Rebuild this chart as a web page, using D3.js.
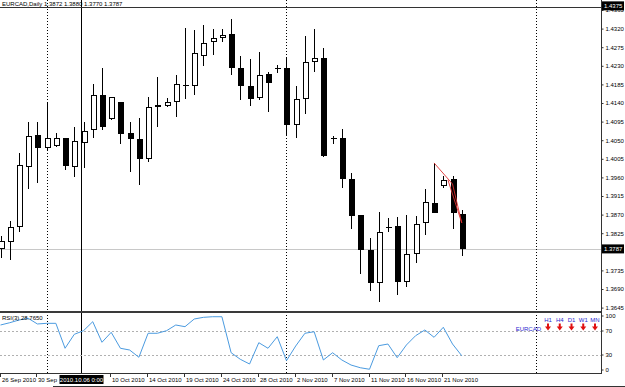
<!DOCTYPE html>
<html><head><meta charset="utf-8">
<script src="https://cdn.jsdelivr.net/npm/d3@7"></script>
<style>html,body{margin:0;padding:0;background:#fff;overflow:hidden}svg{display:block}text{font-family:"Liberation Sans",Arial,sans-serif;}</style>
</head><body><svg id="c" width="625" height="387"></svg>
<script>
const titleText = "EURCAD,Daily  1.3872 1.3880 1.3770 1.3787";
const opens  = [1.3787,1.3804,1.3840,1.3985,1.4063,1.4031,1.4036,1.4055,1.3985,1.4043,1.4075,1.4159,1.4101,1.4142,1.4067,1.4053,1.4005,1.4130,1.4133,1.4142,1.4181,1.4181,1.4254,1.4288,1.4297,1.4307,1.4225,1.4181,1.4152,1.4210,1.4225,1.4225,1.4087,1.4150,1.4239,1.4249,1.4055,1.4055,1.3956,1.3869,1.3784,1.3704,1.3840,1.3842,1.3707,1.3775,1.3850,1.3898,1.3939,1.3956,1.3872];
const highs  = [1.3818,1.3855,1.4019,1.4094,1.4094,1.4140,1.4067,1.4055,1.4082,1.4094,1.4186,1.4225,1.4155,1.4142,1.4094,1.4104,1.4155,1.4203,1.4152,1.4208,1.4321,1.4317,1.4329,1.4319,1.4319,1.4343,1.4254,1.4246,1.4263,1.4215,1.4232,1.4249,1.4181,1.4302,1.4319,1.4273,1.4060,1.4077,1.3971,1.3869,1.3813,1.3876,1.3862,1.3864,1.3869,1.3867,1.3932,1.3995,1.3963,1.3963,1.3880];
const lows   = [1.3765,1.3760,1.3828,1.3932,1.3946,1.4026,1.4034,1.3978,1.3961,1.3983,1.4055,1.4075,1.4099,1.4041,1.3973,1.3942,1.3997,1.4082,1.4130,1.4106,1.4150,1.4159,1.4230,1.4256,1.4288,1.4208,1.4147,1.4133,1.4147,1.4118,1.4213,1.4063,1.4055,1.4113,1.4215,1.4010,1.4041,1.3934,1.3835,1.3726,1.3685,1.3658,1.3828,1.3675,1.3695,1.3753,1.3821,1.3874,1.3934,1.3835,1.3770];
const closes = [1.3806,1.3840,1.3990,1.4060,1.4031,1.4055,1.4055,1.3988,1.4048,1.4072,1.4159,1.4082,1.4155,1.4065,1.4053,1.4005,1.4130,1.4135,1.4142,1.4186,1.4184,1.4261,1.4285,1.4297,1.4305,1.4225,1.4181,1.4150,1.4208,1.4188,1.4222,1.4087,1.4150,1.4239,1.4249,1.4012,1.4053,1.3956,1.3867,1.3784,1.3704,1.3828,1.3838,1.3707,1.3775,1.3847,1.3900,1.3874,1.3954,1.3874,1.3787];
const rsiValues = [80,83.8,88.3,91.2,81.7,82.8,82.8,41.2,64.5,70.5,85.5,51.2,67.8,41.2,38.3,26.2,66.2,66.2,70.5,80,77.2,90,92.8,93.8,93.8,33.8,22.8,15,50.5,41.2,60.5,20.5,45,66.2,68.8,21.7,33.8,21.7,13.3,8.8,6.2,45.5,48.3,25.5,46.7,62.2,71.7,59.5,76.2,48.3,28.765];
const rsiLabel = "RSI(3) 28.7650";
const dateTickBars = [0,4,12,16,20,24,28,32,36,40,44,48];
const dateTickLabels = ["26 Sep 2010","30 Sep 2010","10 Oct 2010","14 Oct 2010","19 Oct 2010","24 Oct 2010","28 Oct 2010","2 Nov 2010","7 Nov 2010","11 Nov 2010","16 Nov 2010","21 Nov 2010"];
const priceTicks = [1.4365,1.4320,1.4275,1.4230,1.4185,1.4140,1.4095,1.4050,1.4005,1.3960,1.3915,1.3870,1.3825,1.3735,1.3690,1.3645];
const priceTop = 1.4375;
const lastPrice = 1.3787;
const rsiTicks = [100,70,30,0];
const rsiLevels = [70,30];
const monthSeparatorBars = [5,31,58];
const crosshairBar = 9;
const crosshairLabel = "2010.10.06 0:00";
const trendLines = [[[47,1.3995],[49,1.3944]],[[48.5,1.3954],[50,1.3850]],[[49,1.3944],[50,1.3850]]];
const pairName = "EURCAD";
const timeframes = ["H1","H4","D1","W1","MN"];

const svg = d3.select("#c");
const W = 625, H = 387, axisX = 601;
const mainBottom = 311, rsiTop = 313, rsiBottom = 373;

const x = d3.scaleLinear().domain([0, 65]).range([0.5, 0.5 + 65 * 9.225]);
const y = d3.scaleLinear().domain([1.3645, 1.4365]).range([307.6, 10]);
const yr = d3.scaleLinear().domain([0, 100]).range([rsiBottom, rsiTop]);

const bars = opens.map((o, i) => ({i, o, h: highs[i], l: lows[i], c: closes[i]}));
const chX = Math.round(x(crosshairBar)) - 3 + 0.5;

const defs = svg.append("defs");
defs.append("clipPath").attr("id","mc").append("rect").attr("x",0).attr("y",0).attr("width",axisX).attr("height",mainBottom);

// current price line
svg.append("line").attr("x1",0).attr("x2",axisX).attr("y1",Math.round(y(lastPrice))+0.5).attr("y2",Math.round(y(lastPrice))+0.5)
  .attr("stroke","#c8c8c8").attr("stroke-width",1);

// month separators
monthSeparatorBars.forEach(b => {
  const xx = Math.round(x(b)) + 0.5;
  svg.append("line").attr("x1",xx).attr("x2",xx).attr("y1",0).attr("y2",rsiBottom)
    .attr("stroke","#000").attr("stroke-width",1).attr("stroke-dasharray","1,2");
});

// crosshair vertical
svg.append("line").attr("x1",chX).attr("x2",chX).attr("y1",0).attr("y2",rsiBottom).attr("stroke","#000").attr("stroke-width",1);

// candles
const g = svg.append("g").attr("clip-path","url(#mc)").attr("shape-rendering","crispEdges");
bars.forEach(d => {
  const xc = Math.round(x(d.i));
  g.append("line").attr("x1",xc+0.5).attr("x2",xc+0.5).attr("y1",y(d.h)).attr("y2",y(d.l)).attr("stroke","#000").attr("stroke-width",1);
  const yo = y(d.o), yc = y(d.c);
  const top = Math.round(Math.min(yo,yc)), bot = Math.round(Math.max(yo,yc));
  if (bot - top < 2) {
    g.append("line").attr("x1",xc-2).attr("x2",xc+4).attr("y1",top+0.5).attr("y2",top+0.5).attr("stroke","#000").attr("stroke-width",1);
  } else if (d.c >= d.o) {
    g.append("rect").attr("x",xc-2+0.5).attr("y",top+0.5).attr("width",5).attr("height",bot-top-1)
      .attr("fill","#fff").attr("stroke","#000").attr("stroke-width",1);
  } else {
    g.append("rect").attr("x",xc-2).attr("y",top).attr("width",6).attr("height",bot-top).attr("fill","#000");
  }
});

// trend lines
trendLines.forEach(seg => {
  svg.append("line").attr("x1",x(seg[0][0])).attr("y1",y(seg[0][1])).attr("x2",x(seg[1][0])).attr("y2",y(seg[1][1]))
    .attr("stroke","#e03030").attr("stroke-width",0.9);
});

// top border and title
svg.append("line").attr("x1",0).attr("x2",axisX).attr("y1",7.5).attr("y2",7.5).attr("stroke","#333").attr("stroke-width",1);
svg.append("text").attr("x",2).attr("y",6).attr("font-size",6).attr("fill","#000").text(titleText);

// panel separator
svg.append("rect").attr("x",0).attr("y",mainBottom).attr("width",axisX+1).attr("height",2).attr("fill","#3a3a3a");

// RSI levels
rsiLevels.forEach(v => {
  svg.append("line").attr("x1",0).attr("x2",axisX).attr("y1",Math.round(yr(v))+0.5).attr("y2",Math.round(yr(v))+0.5)
    .attr("stroke","#b0b0b0").attr("stroke-width",1).attr("stroke-dasharray","2,2");
});
// RSI line
svg.append("path").datum(rsiValues).attr("fill","none").attr("stroke","#4b9be0").attr("stroke-width",1)
  .attr("d", d3.line().x((d,i)=>x(i)).y(d=>yr(d)));
svg.append("text").attr("x",2).attr("y",319.5).attr("font-size",6).attr("fill","#000").text(rsiLabel);

// bottom axis line
svg.append("line").attr("x1",0).attr("x2",axisX).attr("y1",rsiBottom+0.5).attr("y2",rsiBottom+0.5).attr("stroke","#333");
// right axis line
svg.append("line").attr("x1",axisX+0.5).attr("x2",axisX+0.5).attr("y1",0).attr("y2",rsiBottom+1).attr("stroke","#333");

// price axis
const pa = svg.append("g").attr("transform",`translate(${axisX+0.5},0)`)
  .call(d3.axisRight(y).tickValues(priceTicks).tickSize(2).tickPadding(2).tickFormat(d3.format(".4f")));
pa.select(".domain").remove();
pa.selectAll("text").attr("font-size",6).attr("font-family","Liberation Sans, Arial").attr("fill","#000");
pa.selectAll("line").attr("stroke","#333");

// price boxes
function priceBox(v, yy) {
  svg.append("rect").attr("x",axisX+1).attr("y",yy-4.5).attr("width",22).attr("height",9).attr("fill","#000");
  svg.append("text").attr("x",axisX+3).attr("y",yy+2).attr("font-size",6).attr("fill","#fff").text(d3.format(".4f")(v));
}
priceBox(priceTop, Math.max(y(priceTop),5.5));
priceBox(lastPrice, y(lastPrice));

// rsi axis
const ra = svg.append("g").attr("transform",`translate(${axisX+0.5},0)`);
rsiTicks.forEach(v => {
  const yy = Math.min(Math.max(yr(v), 316), 370);
  ra.append("line").attr("x1",0).attr("x2",2).attr("y1",yy).attr("y2",yy).attr("stroke","#333");
  ra.append("text").attr("x",4).attr("y",yy+2).attr("font-size",6).attr("fill","#000").text(v);
});

// date axis (labels partly hidden by the crosshair date box are cut, as in the terminal)
const boxLeft = chX - 22;
const da = svg.append("g").attr("transform",`translate(0,${rsiBottom})`);
dateTickBars.forEach((b, k) => {
  const xx = Math.round(x(b)) - 1 + 0.5;
  da.append("line").attr("x1",xx).attr("x2",xx).attr("y1",0).attr("y2",4).attr("stroke","#333");
  const t = da.append("text").attr("x",xx+1.5).attr("y",9).attr("font-size",6).attr("fill","#000").text(dateTickLabels[k]);
  if (xx < boxLeft) {
    let s = dateTickLabels[k];
    while (s.length > 0 && xx + 1.5 + t.node().getComputedTextLength() > boxLeft - 0.5) {
      s = s.slice(0, -1); t.text(s);
    }
  }
});
// crosshair date label
svg.append("rect").attr("x",boxLeft).attr("y",375).attr("width",44).attr("height",9).attr("fill","#000");
svg.append("text").attr("x",chX).attr("y",382).attr("text-anchor","middle").attr("font-size",6).attr("fill","#fff").text(crosshairLabel);

// bottom frame line
svg.append("line").attr("x1",53).attr("x2",W).attr("y1",386.5).attr("y2",386.5).attr("stroke","#333");

// timeframe panel
const tfX = d3.scalePoint().domain(timeframes).range([548, 595]);
timeframes.forEach(tf => {
  const cx = tfX(tf);
  svg.append("text").attr("x",cx).attr("y",322).attr("text-anchor","middle").attr("font-size",6).attr("fill","#2a2ad0").text(tf);
  svg.append("path").attr("d",`M${cx-1},${323.5} h2 v3 h2 l-3,4 l-3,-4 h2 z`).attr("fill","#e01010");
});
svg.append("text").attr("x",541).attr("y",331).attr("text-anchor","end").attr("font-size",6).attr("fill","#2a2ad0").text(pairName);
</script></body></html>
